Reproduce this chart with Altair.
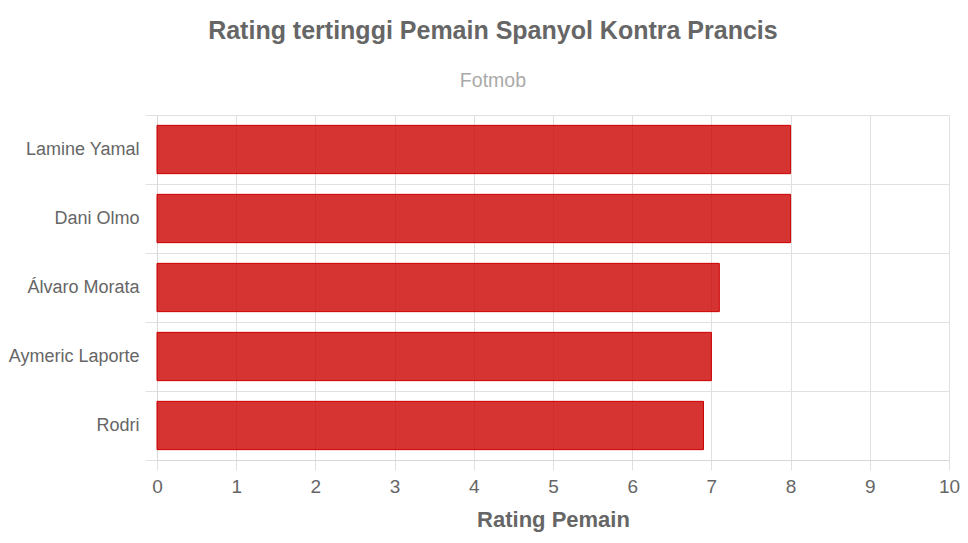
import altair as alt
import pandas as pd

players = ["Lamine Yamal", "Dani Olmo", "Álvaro Morata", "Aymeric Laporte", "Rodri"]
ratings = [8.0, 8.0, 7.1, 7.0, 6.9]

df = pd.DataFrame({"player": players, "rating": ratings})

FONT = "Liberation Sans"

chart = (
    alt.Chart(df)
    .mark_bar(
        height=alt.RelativeBandSize(0.7),
        color="#cc0000",
        fillOpacity=0.8,
        stroke="#cc0000",
        strokeWidth=1,
    )
    .encode(
        y=alt.Y(
            "player:N",
            sort=players,
            scale=alt.Scale(paddingInner=0, paddingOuter=0),
            axis=alt.Axis(
                title=None,
                tickBand="extent",
                grid=True,
                gridColor="#e0e0e0",
                tickColor="#e0e0e0",
                tickSize=12,
                domainColor="#d8d8d8",
                labelPadding=6,
                labelFontSize=18,
                labelColor="#666666",
                labelFont=FONT,
            ),
        ),
        x=alt.X(
            "rating:Q",
            scale=alt.Scale(domain=[0, 10], nice=False),
            axis=alt.Axis(
                title="Rating Pemain",
                titleFontSize=22,
                titleFont=FONT,
                titleColor="#666666",
                titleFontWeight="bold",
                titlePadding=13,
                values=list(range(0, 11)),
                grid=True,
                gridColor="#e0e0e0",
                tickColor="#e0e0e0",
                tickSize=10,
                domainColor="#d8d8d8",
                labelFontSize=19,
                labelColor="#666666",
                labelFont=FONT,
                labelPadding=7,
                labelFlush=False,
            ),
        ),
    )
    .properties(
        width=792,
        height=345,
        autosize=alt.AutoSizeParams(type="none"),
        padding={"left": 149, "top": 107, "right": 11, "bottom": 75},
        title=alt.TitleParams(
            text="Rating tertinggi Pemain Spanyol Kontra Prancis",
            subtitle="Fotmob",
            anchor="middle",
            frame="bounds",
            dx=9,
            font=FONT,
            fontSize=25,
            fontWeight="bold",
            color="#666666",
            subtitleFont=FONT,
            subtitleFontSize=19.5,
            subtitleColor="#aaaaaa",
            subtitlePadding=28,
            offset=16,
        ),
    )
    .configure_view(stroke=None)
)

chart.save("out.html", embed_options={"renderer": "svg", "actions": False})
